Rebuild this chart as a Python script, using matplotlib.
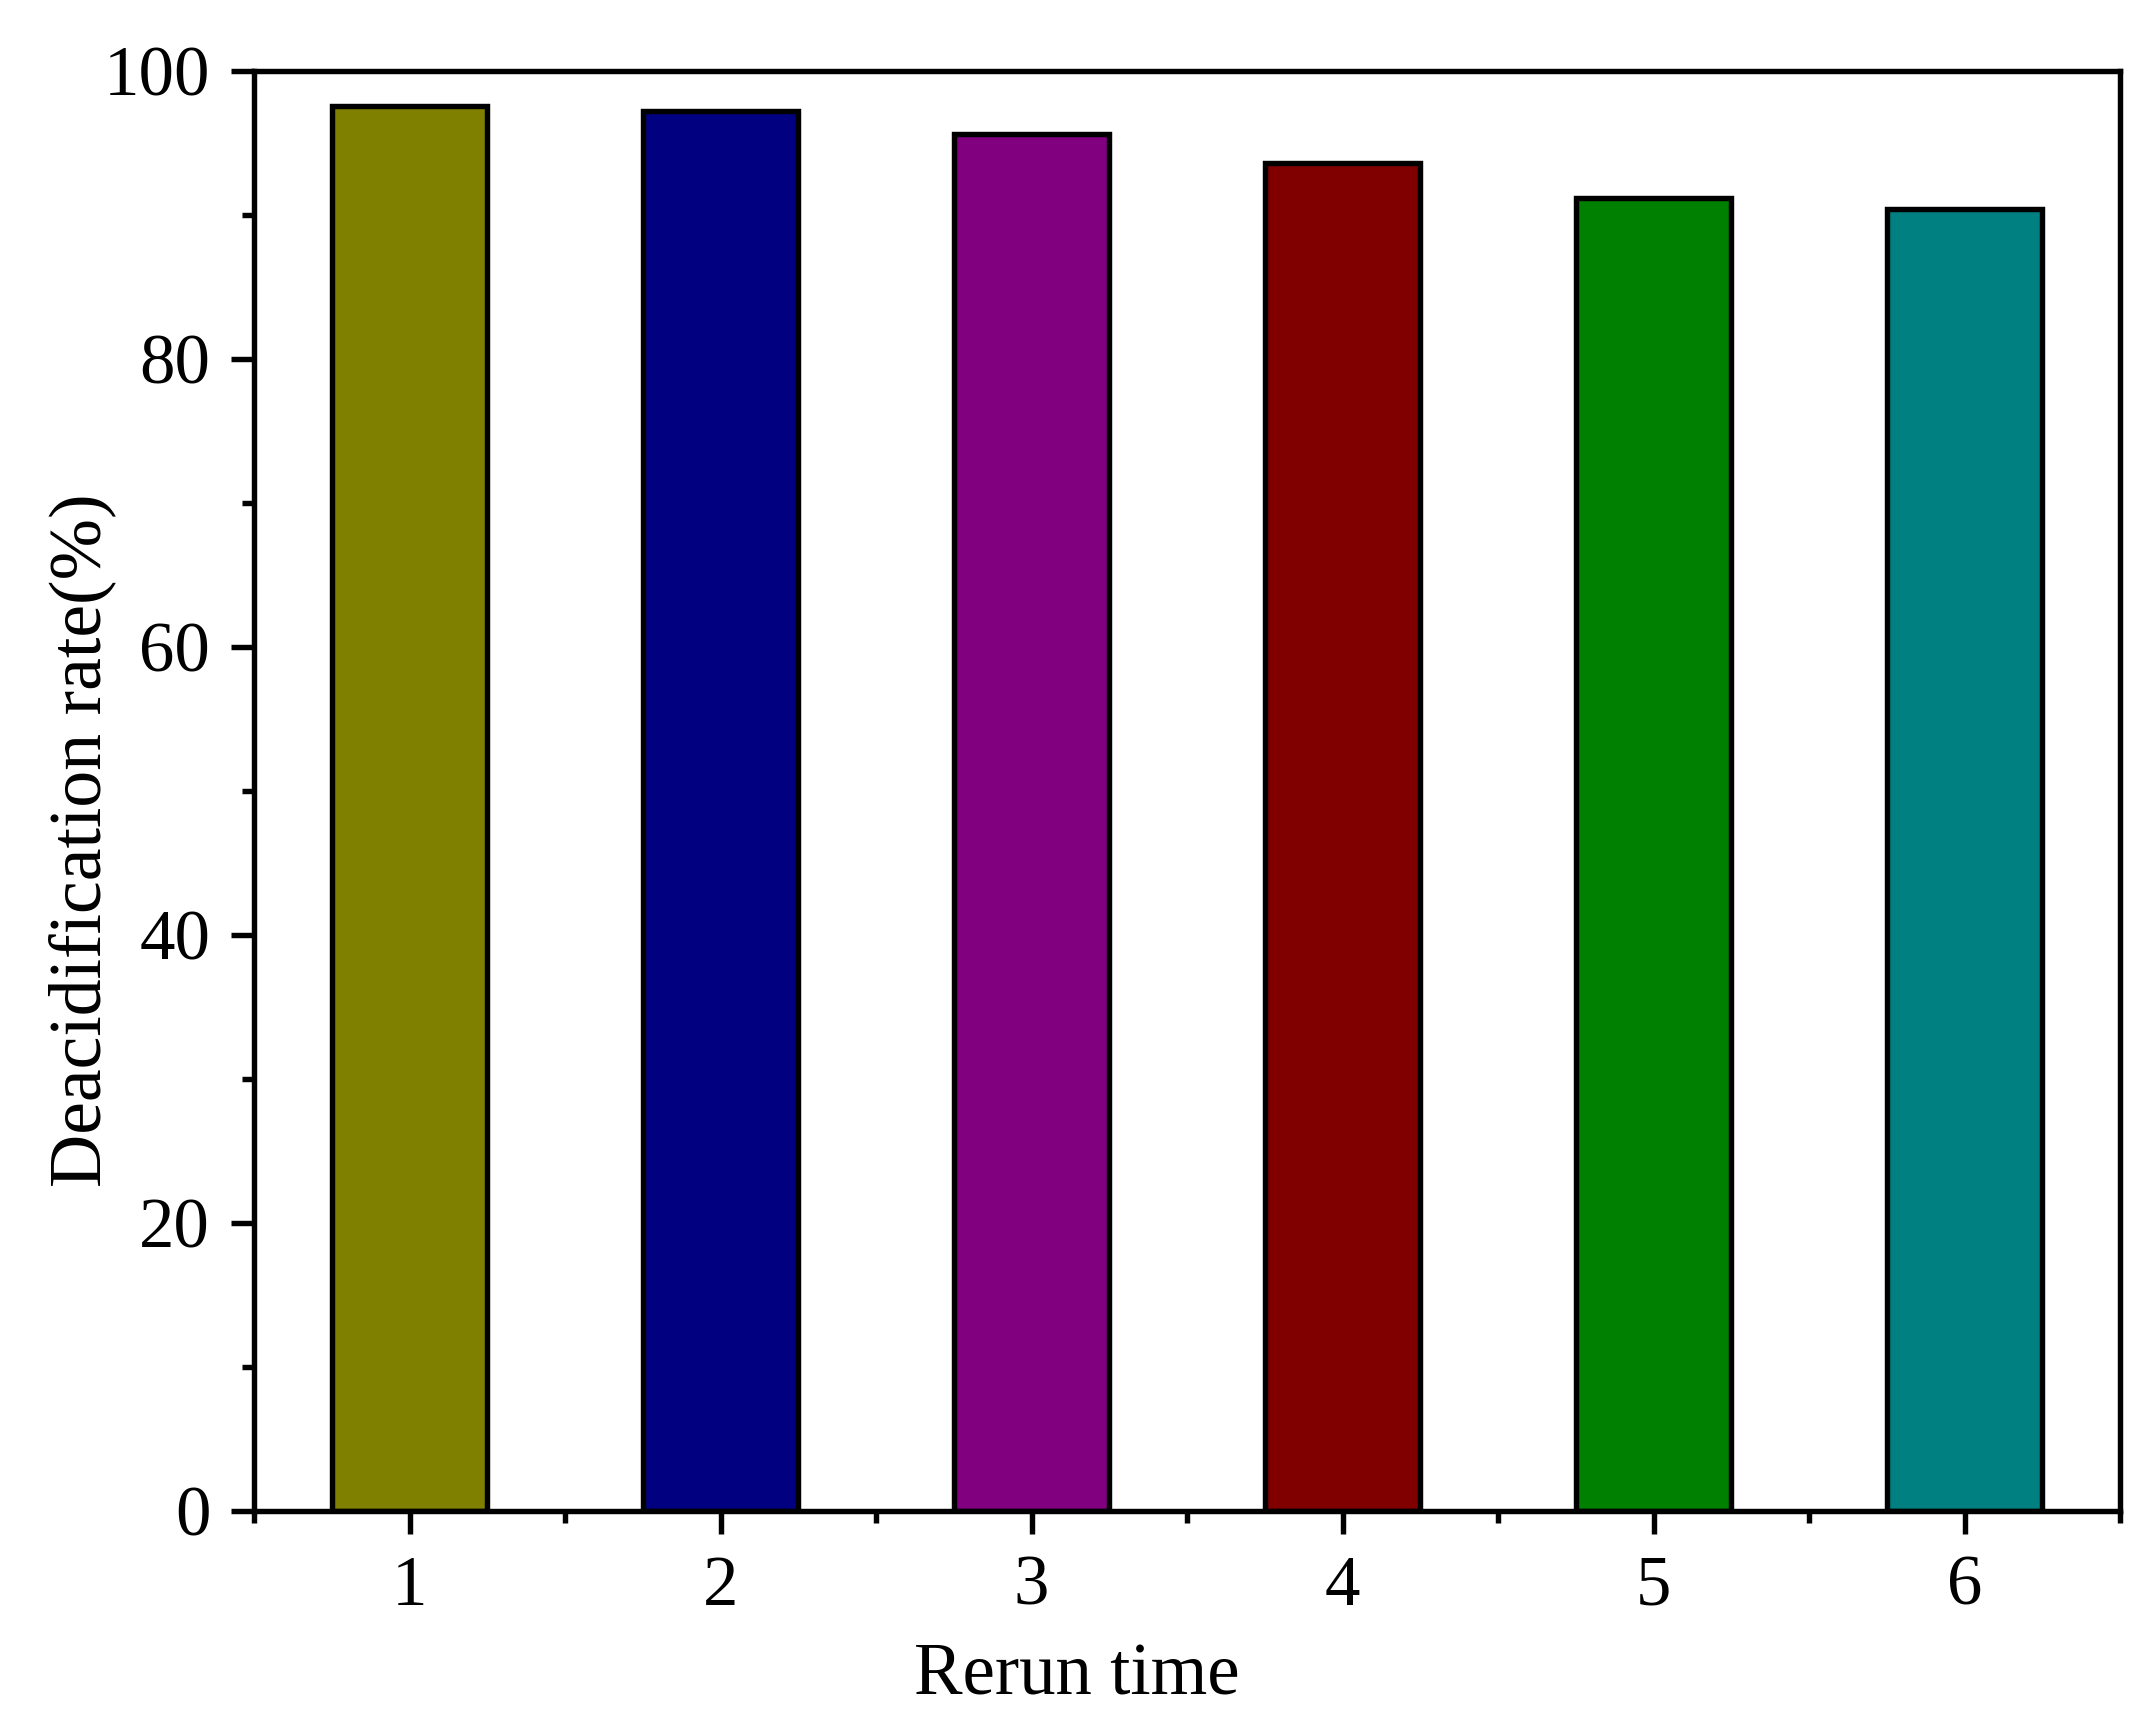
import matplotlib
matplotlib.use("Agg")
import matplotlib.pyplot as plt
from matplotlib.ticker import MultipleLocator

# data
runs = [1, 2, 3, 4, 5, 6]
rates = [97.6, 97.2, 95.6, 93.6, 91.2, 90.4]
colores = ["#808000", "#000080", "#800080", "#800000", "#008000", "#008080"]

plt.rcParams['font.family'] = ['Liberation Serif', 'DejaVu Serif']
plt.rcParams['axes.linewidth'] = 1.3

fig = plt.figure(figsize=(2152 / 300, 1728 / 300), dpi=300)
ax = fig.add_axes([254 / 2152, 1 - 1511 / 1728, (2120 - 254) / 2152, (1511 - 71) / 1728])

ax.bar(runs, rates, width=0.5, color=colores, edgecolor="black", linewidth=1.3, zorder=2)

ax.set_xlim(0.5, 6.5)
ax.set_ylim(0, 100)
ax.xaxis.set_major_locator(MultipleLocator(1))
ax.xaxis.set_minor_locator(MultipleLocator(0.5))
ax.yaxis.set_major_locator(MultipleLocator(20))
ax.yaxis.set_minor_locator(MultipleLocator(10))

ax.tick_params(which="major", direction="out", length=5.5, width=1.3, labelsize=17, pad=5)
ax.tick_params(which="minor", direction="out", length=2.8, width=1.3)
ax.tick_params(top=False, right=False, which="both")

# los titulos de los ejes no estan centrados en el original
ax.set_xlabel("Rerun time", fontsize=17.5, labelpad=5.6)
ax.xaxis.label.set_x(0.441)
ax.set_ylabel("Deacidification rate(%)", fontsize=17.7, labelpad=-3)
ax.yaxis.label.set_y(0.466)

fig.savefig("out.png", dpi=300)
